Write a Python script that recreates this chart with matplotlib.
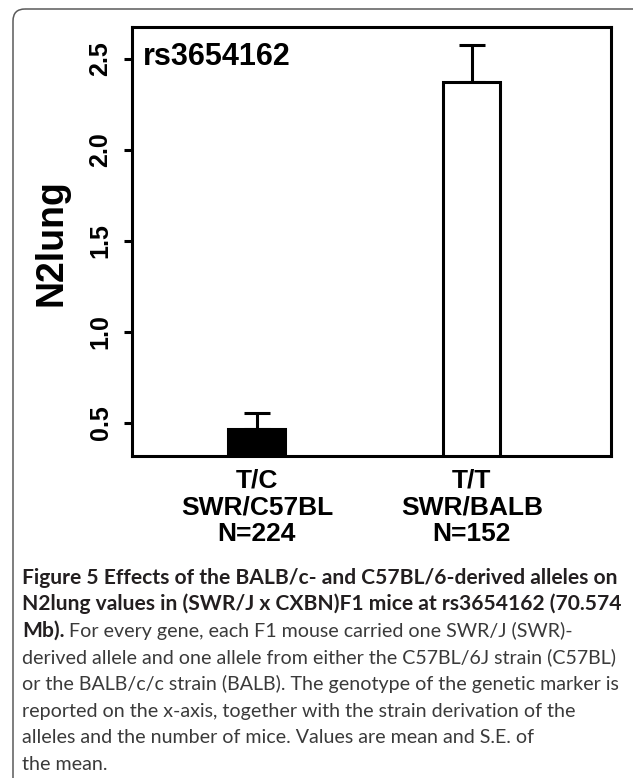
import numpy as np
import matplotlib
matplotlib.use('Agg')
import matplotlib.pyplot as plt
from matplotlib.patches import FancyBboxPatch

# values
genotypes = ['T/C', 'T/T']
strains = ['SWR/C57BL', 'SWR/BALB']
n_mice = [224, 152]
means = [0.47, 2.374]
se = [0.085, 0.203]
bar_colors = ['black', 'white']
yticks = [0.5, 1.0, 1.5, 2.0, 2.5]
marker_name = 'rs3654162'
ylabel = 'N2lung'

caption_lines = [
    ('Figure 5 Effects of the BALB/c- and C57BL/6-derived alleles on', ''),
    ('N2lung values in (SWR/J x CXBN)F1 mice at rs3654162 (70.574', ''),
    ('Mb).', ' For every gene, each F1 mouse carried one SWR/J (SWR)-'),
    ('', 'derived allele and one allele from either the C57BL/6J strain (C57BL)'),
    ('', 'or the BALB/c/c strain (BALB). The genotype of the genetic marker is'),
    ('', 'reported on the x-axis, together with the strain derivation of the'),
    ('', 'alleles and the number of mice. Values are mean and S.E. of'),
    ('', 'the mean.'),
]

W, H = 633, 778
fig = plt.figure(figsize=(W / 100, H / 100), dpi=100)

# background layer in pixel coords for the frame + caption
bg = fig.add_axes([0, 0, 1, 1], zorder=-1)
bg.set_xlim(0, W)
bg.set_ylim(H, 0)
bg.axis('off')
bg.add_patch(FancyBboxPatch((13, 9), 700, 800,
                            boxstyle='round,pad=0,rounding_size=12',
                            fc='none', ec='#5a5a5a', lw=1.1))

# main chart
ax = fig.add_axes([132 / W, 1 - 456 / H, (611 - 132) / W, (456 - 27) / H])
x = np.arange(len(means))
lw = 2.2
ax.errorbar(x, means, yerr=[np.zeros(len(se)), se], fmt='none', ecolor='black',
            elinewidth=lw, capsize=9.4, capthick=lw, zorder=1)
ax.bar(x, means, width=0.265, color=bar_colors, edgecolor='black', linewidth=lw,
       zorder=2)

ax.set_xlim(-0.581, 1.647)
ax.set_ylim(0.319, 2.676)
for s in ax.spines.values():
    s.set_linewidth(lw)

ax.set_yticks(yticks)
ax.set_yticklabels([f'{v:.1f}' for v in yticks], rotation=90, va='center',
                   fontsize=18, fontweight='bold', family='Liberation Sans')
ax.tick_params(axis='y', length=6, width=lw, pad=8)

xlabels = [f'{g}\n{s}\nN={n}' for g, s, n in zip(genotypes, strains, n_mice)]
ax.set_xticks(x)
ax.set_xticklabels(xlabels, fontsize=19, fontweight='bold',
                   family='Liberation Sans', linespacing=1.15)
ax.tick_params(axis='x', length=0, pad=9)

fig.text(143 / W, 1 - 57 / H, marker_name, fontsize=22, fontweight='bold',
         family='Liberation Sans', va='center')

fig.text(51 / W, 1 - 243 / H, ylabel, rotation=90, ha='center', va='center',
         fontsize=27, fontweight='bold', family='Liberation Sans')

# caption
y0, dy = 584, 26.5
bold_kw = dict(fontsize=15.1, fontweight='bold', family='Lato', color='#231f20',
               va='baseline')
reg_kw = dict(fontsize=14.1, family='Lato', color='#3a3a3a', va='baseline')
for i, (bold, reg) in enumerate(caption_lines):
    y = y0 + i * dy
    if bold:
        t = bg.text(22, y, bold, **bold_kw)
        if reg:
            bg.annotate(reg, xy=(1, y), xycoords=(t, 'data'), **reg_kw)
    else:
        bg.text(22, y, reg, **reg_kw)

fig.savefig('out.png', dpi=100)
